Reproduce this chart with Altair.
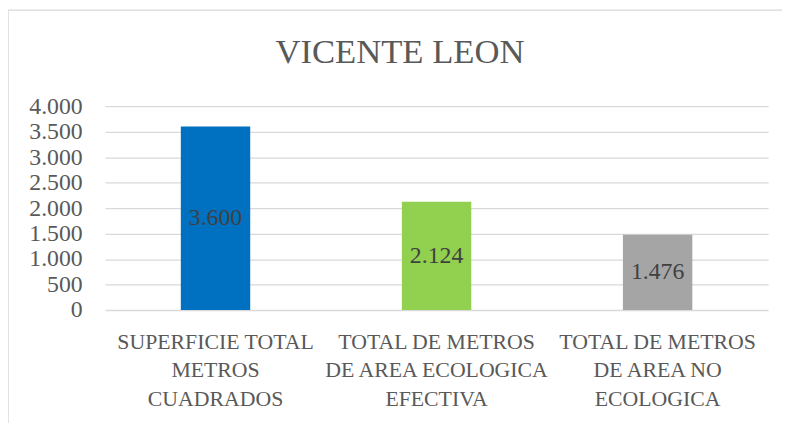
import altair as alt
import pandas as pd

categories = ["SUPERFICIE TOTAL|METROS|CUADRADOS",
              "TOTAL DE METROS|DE AREA ECOLOGICA|EFECTIVA",
              "TOTAL DE METROS|DE AREA NO|ECOLOGICA"]
values = [3600, 2124, 1476]
colors = ["#0070C0", "#92D050", "#A5A5A5"]
y_ticks = [0, 500, 1000, 1500, 2000, 2500, 3000, 3500, 4000]

df = pd.DataFrame({"cat": categories, "value": values})

FONT = "Liberation Serif"

x_axis = alt.Axis(title=None, labelAngle=0, domain=False, ticks=False,
                  labelPadding=22, labelFontSize=22, labelFont=FONT,
                  labelColor="#595959", labelLimit=300, labelLineHeight=28.5,
                  labelExpr="split(datum.value, '|')")
y_axis = alt.Axis(title=None, values=y_ticks, domain=False, ticks=False,
                  gridColor="#D9D9D9", gridWidth=1.3, labelPadding=23,
                  labelOverlap=False, labelFontSize=24, labelFont=FONT,
                  labelColor="#595959",
                  labelExpr="replace(format(datum.value, ','), ',', '.')")
x_scale = alt.Scale(paddingInner=0.686, paddingOuter=0.343)
y_scale = alt.Scale(domain=[0, 4000], nice=False)

base = alt.Chart(df)

bars = base.mark_bar().encode(
    x=alt.X("cat:N", sort=categories, scale=x_scale, axis=x_axis),
    y=alt.Y("value:Q", scale=y_scale, axis=y_axis),
    color=alt.Color("cat:N", scale=alt.Scale(domain=categories, range=colors), legend=None),
)

labels = base.transform_calculate(
    mid="datum.value / 2",
    txt="replace(format(datum.value, ','), ',', '.')",
).mark_text(fontSize=24, font=FONT, color="#404040").encode(
    x=alt.X("cat:N", sort=categories, scale=x_scale, axis=x_axis),
    y=alt.Y("mid:Q", scale=y_scale, axis=y_axis),
    text="txt:N",
)

frame = alt.Chart(alt.Data(values=[{"a": 1}])).mark_rect(
    fill="transparent", stroke="#D9D9D9", strokeWidth=1.5
).encode(
    x=alt.value(-98), y=alt.value(-97), x2=alt.value(900), y2=alt.value(600)
)

chart = alt.layer(frame, bars, labels).properties(
    width=670, height=206,
    title=alt.TitleParams("VICENTE LEON", fontSize=35, font=FONT, color="#595959",
                          fontWeight="normal", anchor="middle", dx=-37, offset=-89,
                          baseline="alphabetic"),
    autosize=alt.AutoSizeParams(type="none"),
    padding={"left": 98, "top": 97, "right": 14, "bottom": 112},
).configure_view(stroke=None)

chart.save("out.html", embed_options={"renderer": "svg", "actions": False})
